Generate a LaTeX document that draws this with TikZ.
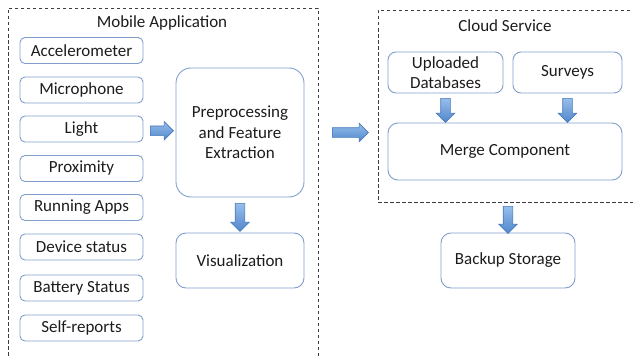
\documentclass[tikz,border=0pt]{standalone}
\usepackage{fontspec}
\setmainfont{Carlito}
\usetikzlibrary{
    shapes.arrows,
    calc,
    positioning
}
\definecolor{boxblue}{RGB}{128,158,205}
\definecolor{arrowline}{RGB}{74,120,185}
\definecolor{arrowtop}{RGB}{150,190,235}
\definecolor{arrowbot}{RGB}{80,135,205}
\definecolor{textgray}{RGB}{28,28,28}
\definecolor{framegray}{RGB}{60,60,60}
\tikzset{
    box/.style={draw=boxblue, line width=0.9pt, rounded corners=5pt, align=center,
        text=textgray, font=\fontsize{17}{20.5}\selectfont, inner sep=0pt},
    sensor/.style={box, minimum width=123pt, minimum height=26pt},
    frame/.style={draw=framegray, line width=0.9pt, dash pattern=on 3.5pt off 2.5pt,
        inner sep=0pt},
    title/.style={text=textgray, font=\fontsize{17}{20}\selectfont},
    flow/.style={single arrow, draw=arrowline, line width=0.6pt,
        inner xsep=0pt, inner ysep=4.5pt,
        top color=arrowtop, bottom color=arrowbot,
        single arrow head extend=4.5pt, minimum height=23pt}
}

\begin{document}
\begin{tikzpicture}[x=1pt, y=-1pt]
    \useasboundingbox (0,0) rectangle (633,356);
    \clip (0,0) rectangle (633,356);

    % mobile side
    \node[frame, minimum width=310pt, minimum height=356pt] (mobile) at (163,186) {};
    \node[title] (mobiletitle) at (162,23) {Mobile Application};

    \node[sensor] (accel) at (81.5,50.5) {Accelerometer};
    \node[sensor] (micro) at (81.5,90) {Microphone};
    \node[sensor] (light) at (81.5,129) {Light};
    \node[sensor] (prox) at (81.5,168.5) {Proximity};
    \node[sensor] (apps) at (81.5,207.5) {Running Apps};
    \node[sensor] (device) at (81.5,247) {Device status};
    \node[sensor] (battery) at (81.5,288) {Battery Status};
    \node[sensor] (selfrep) at (81.5,328) {Self-reports};

    \node[box, rounded corners=15pt, minimum width=128pt, minimum height=129pt]
        (prep) at (240,132.5) {Preprocessing\\and Feature\\Extraction};
    \node[box, rounded corners=10pt, minimum width=128pt, minimum height=55pt]
        (vis) at (240,260.5) {Visualization};

    % cloud side
    \node[frame, minimum width=264pt, minimum height=192pt] (cloud) at (510,106) {};
    \node[title] (cloudtitle) at (505,26) {Cloud Service};

    \node[box, rounded corners=8pt, minimum width=115pt, minimum height=41pt]
        (upload) at (445.5,72.5) {Uploaded\\Databases};
    \node[box, rounded corners=8pt, minimum width=109pt, minimum height=41pt]
        (survey) at (567.5,72.5) {Surveys};
    \node[box, rounded corners=10pt, minimum width=234pt, minimum height=57pt]
        (merge) at (505,151.5) {Merge Component};
    \node[box, rounded corners=10pt, minimum width=134pt, minimum height=55pt]
        (backup) at (508,260.5) {Backup Storage};

    % block arrows
    \node[flow] (a1) at ($(light.east)!0.5!(prep.west)$) {};
    \node[flow, rotate=-90, minimum height=28pt] (a2) at ($(prep.south)!0.5!(vis.north)$) {};
    \node[flow, minimum height=36pt] (a3) at ($(mobile.east|-prep)!0.5!(cloud.west|-prep)$) {};
    \node[flow, rotate=-90, minimum height=24pt] (a4) at ($(upload.south)!0.5!(upload.south|-merge.north)$) {};
    \node[flow, rotate=-90, minimum height=24pt] (a5) at ($(survey.south)!0.5!(survey.south|-merge.north)$) {};
    \node[flow, rotate=-90, minimum height=27pt] (a6) at ($(cloud.south-|backup)!0.5!(backup.north)$) {};
\end{tikzpicture}
\end{document}
